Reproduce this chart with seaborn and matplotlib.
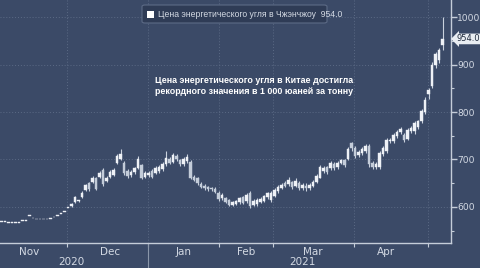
import matplotlib
matplotlib.use("Agg")
import matplotlib.pyplot as plt
import matplotlib.transforms as mtransforms
from matplotlib.patches import FancyBboxPatch, Rectangle
import seaborn as sns
import numpy as np
import pandas as pd

# ---- data ----
opens = [568, 568, 567, 567, 566, 566, 570, 570, 581, 576, 574, 574, 574, 574, 575, 578, 581, 585, 590, 598,
         602, 611, 612, 620, 636, 650, 653, 660, 663, 678, 655, 664, 668, 693, 702, 693, 676, 667, 673, 683,
         688, 664, 668, 676, 672, 675, 680, 690, 702, 695, 708, 699, 690, 696, 695, 664, 660, 649, 644, 641,
         640, 638, 630, 618, 618, 614, 605, 607, 610, 620, 612, 630, 604, 606, 611, 613, 620, 615, 624, 633,
         640, 650, 648, 652, 645, 650, 640, 645, 640, 645, 652, 662, 676, 684, 682, 690, 684, 692, 698, 700,
         734, 724, 710, 714, 718, 728, 692, 684, 684, 712, 718, 738, 738, 750, 758, 752, 744, 760, 760, 768,
         780, 800, 838, 855, 898, 910, 942]
highs = [568, 568, 567, 567, 566, 566, 570, 570, 581, 576, 574, 574, 574, 574, 575, 578, 581, 585, 590, 598,
         608, 623, 615, 633, 649, 652, 665, 664, 676, 682, 665, 677, 681, 712, 722, 696, 680, 677, 685, 708,
         690, 676, 676, 680, 686, 688, 694, 718, 706, 714, 712, 702, 706, 712, 698, 668, 663, 652, 648, 645,
         643, 641, 633, 630, 621, 617, 613, 615, 621, 623, 630, 634, 616, 618, 620, 625, 632, 634, 640, 646,
         650, 654, 663, 655, 660, 655, 650, 650, 651, 656, 670, 688, 686, 687, 696, 694, 696, 702, 700, 726,
         737, 728, 720, 726, 732, 732, 696, 694, 718, 728, 746, 746, 756, 762, 768, 755, 766, 770, 780, 784,
         806, 832, 851, 905, 926, 935, 1000]
lows = [568, 568, 567, 567, 566, 566, 570, 570, 581, 576, 574, 574, 574, 574, 575, 578, 581, 585, 590, 598,
        600, 609, 610, 618, 633, 634, 650, 635, 660, 645, 652, 661, 665, 690, 698, 668, 662, 664, 670, 680,
        658, 660, 663, 660, 669, 672, 676, 686, 690, 692, 696, 686, 686, 693, 658, 654, 646, 640, 636, 634,
        634, 629, 612, 615, 608, 602, 602, 604, 606, 606, 609, 598, 601, 603, 608, 610, 617, 611, 621, 630,
        637, 641, 645, 638, 642, 636, 635, 633, 636, 642, 650, 660, 672, 670, 678, 678, 680, 690, 684, 698,
        718, 704, 706, 710, 714, 684, 680, 680, 680, 708, 714, 734, 734, 746, 754, 736, 742, 756, 754, 764,
        776, 796, 828, 850, 893, 904, 930]
closes = [568, 568, 567, 567, 566, 566, 570, 570, 581, 576, 574, 574, 574, 574, 575, 578, 581, 585, 590, 598,
          606, 621, 615, 630, 646, 638, 661, 638, 672, 648, 662, 674, 678, 708, 712, 672, 666, 673, 681, 700,
          662, 672, 672, 664, 682, 684, 690, 704, 693, 710, 700, 690, 702, 706, 662, 657, 650, 643, 640, 638,
          637, 632, 616, 626, 611, 605, 610, 612, 618, 609, 626, 602, 612, 614, 617, 622, 629, 630, 636, 642,
          646, 644, 657, 641, 655, 640, 646, 640, 647, 652, 666, 684, 682, 674, 692, 682, 692, 698, 688, 722,
          724, 708, 716, 722, 728, 690, 684, 690, 714, 724, 742, 742, 752, 758, 764, 740, 762, 766, 776, 780,
          802, 826, 846, 900, 922, 930, 954]

month_labels = ["Nov", "Dec", "Jan", "Feb", "Mar", "Apr"]
month_label_pos = [7.8, 31.0, 51.9, 69.9, 89.0, 109.9]     # candle-index positions
month_bounds = [18.7, 41.9, 62.1, 77.6, 100.7, 121.9]
year_labels = ["2020", "2021"]
year_label_pos = [20.1, 86.1]
yticks = [600, 700, 800, 900, 1000]
last_value = 954.0
series_name = "Цена энергетического угля в Чжэнчжоу"
headline = "Цена энергетического угля в Китае достигла\nрекордного значения в 1 000 юаней за тонну"

df = pd.DataFrame({"open": opens, "high": highs, "low": lows, "close": closes})
df["idx"] = np.arange(len(df))

# ---- style ----
BG = "#3b4a67"
FG = "#d3d9e3"
GRID = "#5b6a85"
sns.set_theme(style="dark", rc={"axes.facecolor": BG, "figure.facecolor": BG})
plt.rcParams["font.family"] = ["DejaVu Sans"]

fig = plt.figure(figsize=(4.8, 2.68), dpi=100)
ax = fig.add_axes([0.0, 0.0933, 0.9396, 0.9067])
ax.set_facecolor(BG)

# wicks
ax.vlines(df["idx"], df["low"], df["high"], color="#c9d1dd", linewidth=0.8, zorder=3)
# bodies
body_bottom = np.minimum(df["open"], df["close"])
body_h = np.maximum(np.abs(df["close"] - df["open"]), 1.6)
up = df["close"] >= df["open"]
ax.bar(df["idx"][up], body_h[up], bottom=body_bottom[up], width=0.7,
       color="#eef1f6", edgecolor="#eef1f6", linewidth=0.3, zorder=4)
ax.bar(df["idx"][~up], body_h[~up], bottom=body_bottom[~up], width=0.7,
       color="#c3ccd9", edgecolor="#c3ccd9", linewidth=0.3, zorder=4)

ax.set_xlim(-0.43, 128.4)
ax.set_ylim(524, 1036)

# grid
for v in yticks:
    ax.axhline(v, color=GRID, linestyle=(0, (1, 2)), linewidth=0.7, zorder=1)
for b in month_bounds:
    ax.axvline(b, color=GRID, linestyle=(0, (1, 2)), linewidth=0.7, zorder=1)

# spines
for s in ["top", "left"]:
    ax.spines[s].set_visible(False)
for s in ["right", "bottom"]:
    ax.spines[s].set_visible(True)
    ax.spines[s].set_color("#c5cdd9")
    ax.spines[s].set_linewidth(1.0)

# y axis on right
ax.yaxis.tick_right()
ax.set_yticks(yticks)
ax.set_yticklabels([str(v) for v in yticks], color=FG, fontsize=6.6)
ax.set_yticks([550, 650, 750, 850, 950], minor=True)
ax.tick_params(axis="y", which="major", direction="out", length=4, width=1, color="#c5cdd9", pad=0.5, right=True)
ax.tick_params(axis="y", which="minor", direction="out", length=2.5, width=0.8, color="#c5cdd9", right=True)

# x axis
ax.set_xticks(month_bounds)
ax.set_xticklabels([""] * len(month_bounds))
ax.set_xticks(month_label_pos, minor=True)
ax.set_xticklabels(month_labels, minor=True, color=FG, fontsize=7.5)
ax.tick_params(axis="x", which="major", direction="out", length=3, width=0.8, color="#c5cdd9", bottom=True)
ax.tick_params(axis="x", which="minor", length=0, pad=3)

trans = mtransforms.blended_transform_factory(ax.transData, fig.transFigure)
for lab, pos in zip(year_labels, year_label_pos):
    fig.text(pos, 0.023, lab, transform=trans, color=FG, fontsize=7.5, ha="center", va="center")
# year separator
ax.plot([41.9, 41.9], [0.0, 0.0933], transform=trans, color="#8b97aa", linewidth=0.8, clip_on=False)

# legend box (pixel geometry converted to figure fraction)
W, H = 480.0, 268.0
fig.patches.append(FancyBboxPatch((142 / W, 1 - 23 / H), 185 / W, 18 / H,
                                  boxstyle="round,pad=0,rounding_size=0.006",
                                  transform=fig.transFigure, facecolor="#2f3c56",
                                  edgecolor="#5d6b86", linewidth=0.8, zorder=5))
fig.patches.append(Rectangle((147 / W, 1 - 18 / H), 7 / W, 7 / H, transform=fig.transFigure,
                             facecolor="white", edgecolor="none", zorder=6))
fig.text(158 / W, 1 - 14.5 / H, f"{series_name}  {last_value:.1f}", color=FG, fontsize=6.2,
         family=["Liberation Sans Narrow", "Liberation Sans", "DejaVu Sans"],
         ha="left", va="center", zorder=7)

# headline annotation
ax.text(43.9, 855, headline, color="white", fontsize=6.4, fontweight="bold",
        family=["Liberation Sans", "DejaVu Sans"], ha="left", va="center", linespacing=1.25)

# last value tag
ax.annotate(f"{last_value:.1f}", xy=(1.0, last_value), xycoords=("axes fraction", "data"),
            xytext=(4, 0), textcoords="offset points", ha="left", va="center", color="#1f2a3c",
            fontsize=6.0, annotation_clip=False,
            bbox=dict(boxstyle="larrow,pad=0.1", facecolor="#e9edf2", edgecolor="none"))

fig.savefig("out.png", dpi=100, facecolor=BG)
